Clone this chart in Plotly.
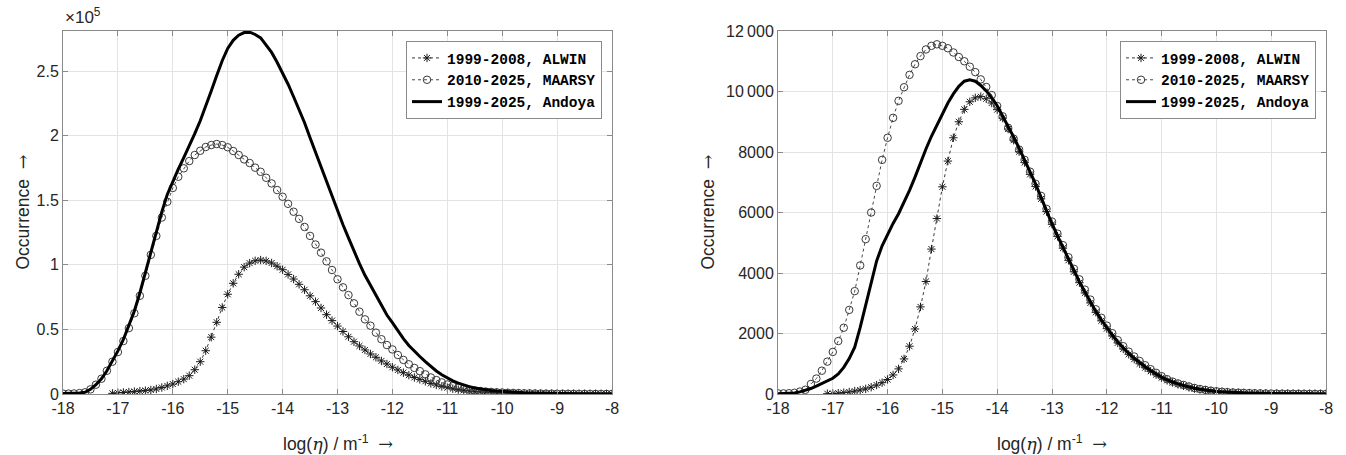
import plotly.graph_objects as go

# ---------------- data ----------------
ETA = [-18.0, -17.9, -17.8, -17.7, -17.6, -17.5, -17.4, -17.3, -17.2, -17.1,
       -17.0, -16.9, -16.8, -16.7, -16.6, -16.5, -16.4, -16.3, -16.2, -16.1,
       -16.0, -15.9, -15.8, -15.7, -15.6, -15.5, -15.4, -15.3, -15.2, -15.1,
       -15.0, -14.9, -14.8, -14.7, -14.6, -14.5, -14.4, -14.3, -14.2, -14.1,
       -14.0, -13.9, -13.8, -13.7, -13.6, -13.5, -13.4, -13.3, -13.2, -13.1,
       -13.0, -12.9, -12.8, -12.7, -12.6, -12.5, -12.4, -12.3, -12.2, -12.1,
       -12.0, -11.9, -11.8, -11.7, -11.6, -11.5, -11.4, -11.3, -11.2, -11.1,
       -11.0, -10.9, -10.8, -10.7, -10.6, -10.5, -10.4, -10.3, -10.2, -10.1,
       -10.0, -9.9, -9.8, -9.7, -9.6, -9.5, -9.4, -9.3, -9.2, -9.1,
       -9.0, -8.9, -8.8, -8.7, -8.6, -8.5, -8.4, -8.3, -8.2, -8.1,
       -8.0]
ETA_ALWIN = ETA[9:]   # ALWIN bins start at -17.1

# left panel: absolute occurrence
L_MAARSY = [300, 300, 400, 700, 1300, 3600, 7200, 11800, 18000, 25000,
            32500, 41000, 51000, 62500, 76000, 91500, 107700, 122400, 136600, 148800,
            159500, 168200, 174700, 180300, 185000, 188300, 191200, 192700, 193500, 192700,
            191000, 188100, 185000, 181600, 178800, 175200, 172000, 167400, 163000, 157900,
            152700, 147200, 141100, 135600, 129300, 122400, 115700, 109400, 102700, 96000,
            88800, 82600, 76600, 70200, 63700, 57800, 52900, 47500, 42400, 37900,
            34500, 30200, 26400, 23000, 20200, 17700, 15200, 12800, 10800, 9000,
            7400, 6100, 5000, 4100, 3400, 2800, 2300, 1900, 1600, 1350,
            1150, 980, 830, 700, 590, 500, 420, 360, 300, 250,
            210, 180, 150, 130, 110, 90, 80, 70, 60, 50,
            40]
L_ALWIN = [500,
           900, 1200, 1500, 1800, 2200, 2600, 3100, 3900, 5000, 6300,
           7700, 9500, 11500, 14200, 18800, 25000, 33500, 44000, 55500, 67000,
           77200, 85700, 92700, 98200, 101300, 103100, 103700, 103000, 101400, 98900,
           96200, 92600, 89000, 84900, 80700, 76000, 71500, 66600, 61400, 56800,
           52600, 48400, 44300, 40500, 37200, 34100, 31000, 28400, 25600, 23200,
           20700, 18600, 16500, 14600, 12800, 11300, 9800, 8200, 7000, 5900,
           4900, 4100, 3400, 2800, 2300, 1900, 1600, 1350, 1150, 950,
           800, 660, 550, 460, 380, 320, 270, 220, 180, 150,
           130, 110, 90, 75, 60, 50, 40, 35, 30, 25,
           20]
L_ANDOYA = [300, 300, 400, 700, 1300, 3600, 7200, 11800, 18000, 25500,
            33400, 42200, 52500, 64300, 78200, 94100, 110800, 126300, 141000, 154500,
            165000, 174000, 183000, 192000, 201500, 211500, 222500, 234500, 246500, 258000,
            267500, 273800, 277700, 279800, 280100, 278300, 275700, 270400, 264400, 256800,
            248900, 239800, 230100, 220500, 210000, 198400, 187200, 176000, 164100, 152800,
            141400, 131000, 120900, 110700, 100900, 91900, 83900, 75900, 68000, 61100,
            55200, 48800, 42900, 37600, 33000, 29000, 25000, 21000, 17800, 14900,
            12300, 10200, 8400, 6900, 5700, 4700, 3900, 3250, 2750, 2300,
            1950, 1640, 1380, 1160, 970, 820, 690, 580, 480, 400,
            340, 290, 240, 205, 170, 140, 120, 105, 90, 75,
            60]

# right panel: normalised occurrence
R_MAARSY = [20, 20, 25, 40, 80, 140, 330, 510, 770, 1070,
            1390, 1750, 2190, 2780, 3400, 4250, 5120, 6000, 6880, 7740,
            8470, 9130, 9690, 10140, 10550, 10900, 11170, 11390, 11510, 11560,
            11510, 11430, 11290, 11140, 11000, 10820, 10640, 10400, 10150, 9880,
            9520, 9180, 8800, 8440, 8080, 7740, 7350, 6950, 6550, 6120,
            5700, 5300, 4920, 4520, 4140, 3790, 3450, 3120, 2800, 2520,
            2260, 2010, 1780, 1580, 1400, 1240, 1090, 950, 820, 700,
            590, 490, 410, 350, 300, 250, 200, 165, 135, 110,
            90, 75, 62, 52, 44, 37, 31, 26, 22, 18,
            15, 13, 11, 9, 8, 7, 6, 5, 4, 4,
            3]
R_ALWIN = [10,
           15, 25, 45, 65, 95, 130, 170, 225, 295, 375,
           480, 630, 830, 1160, 1580, 2150, 2880, 3720, 4790, 5800,
           6850, 7700, 8470, 9000, 9410, 9660, 9790, 9830, 9760, 9620,
           9400, 9120, 8760, 8390, 8010, 7650, 7260, 6860, 6450, 6030,
           5610, 5210, 4820, 4420, 4040, 3680, 3340, 3010, 2700, 2420,
           2160, 1920, 1690, 1490, 1310, 1150, 1000, 870, 750, 640,
           540, 450, 380, 320, 270, 220, 180, 150, 125, 100,
           82, 68, 56, 46, 38, 32, 26, 22, 18, 15,
           12, 10, 9, 8, 7, 6, 5, 4, 4, 3,
           3]
R_ANDOYA = [10, 15, 20, 35, 70, 120, 180, 260, 350, 430,
            520, 660, 880, 1170, 1550, 2200, 2950, 3750, 4400, 4900,
            5300, 5640, 5960, 6340, 6730, 7170, 7650, 8100, 8520, 8900,
            9290, 9620, 9920, 10170, 10340, 10390, 10340, 10200, 10020, 9800,
            9530, 9200, 8860, 8500, 8130, 7750, 7350, 6950, 6500, 6050,
            5620, 5230, 4840, 4450, 4070, 3710, 3370, 3040, 2730, 2450,
            2190, 1950, 1720, 1520, 1340, 1180, 1030, 900, 775, 660,
            560, 470, 395, 335, 280, 230, 190, 158, 130, 105,
            86, 71, 58, 48, 40, 33, 27, 23, 19, 16,
            13, 11, 10, 9, 8, 7, 6, 5, 4, 4,
            3]

SERIES_NAMES = ["1999-2008, ALWIN", "2010-2025, MAARSY", "1999-2025, Andoya"]

X_TICKS = [-18, -17, -16, -15, -14, -13, -12, -11, -10, -9, -8]
X_TICKTEXT = ["-18", "-17", "-16", "-15", "-14", "-13", "-12", "-11", "-10", "-9", "-8"]
L_YTICKS = [0, 50000, 100000, 150000, 200000, 250000]
L_YTICKTEXT = ["0", "0.5", "1", "1.5", "2", "2.5"]
R_YTICKS = [0, 2000, 4000, 6000, 8000, 10000, 12000]
R_YTICKTEXT = ["0", "2000", "4000", "6000", "8000", "10\u2009000", "12\u2009000"]

# ---------------- styling ----------------
W, H = 1346, 455
FONT = "Liberation Sans, Arial, Helvetica, sans-serif"
MONO = "Liberation Mono, Courier New, monospace"
TXT = "#262626"
AXC = "#8a8a8a"
GRID = "#e3e3e3"

L_X0, L_X1 = 63, 612
R_X0, R_X1 = 778, 1326
Y_TOP, Y_BOT = 31, 394


def px_x(p):
    return p / W


def px_y(p):
    return 1 - p / H


fig = go.Figure()


def add_panel(xa, ya, leg, alwin, maarsy, andoya):
    fig.add_trace(go.Scatter(
        x=ETA_ALWIN, y=alwin, name=SERIES_NAMES[0], mode="lines+markers",
        line=dict(color="#222222", width=0.9, dash="dot"),
        marker=dict(symbol="asterisk-open", size=7, color="#1a1a1a",
                    line=dict(color="#1a1a1a", width=1)),
        xaxis=xa, yaxis=ya, legend=leg))
    fig.add_trace(go.Scatter(
        x=ETA, y=maarsy, name=SERIES_NAMES[1], mode="lines+markers",
        line=dict(color="#333333", width=0.9, dash="dot"),
        marker=dict(symbol="circle-open", size=7.5, color="#3a3a3a",
                    line=dict(color="#3a3a3a", width=1)),
        xaxis=xa, yaxis=ya, legend=leg))
    fig.add_trace(go.Scatter(
        x=ETA, y=andoya, name=SERIES_NAMES[2], mode="lines",
        line=dict(color="black", width=3),
        xaxis=xa, yaxis=ya, legend=leg))


add_panel("x", "y", "legend", L_ALWIN, L_MAARSY, L_ANDOYA)
add_panel("x2", "y2", "legend2", R_ALWIN, R_MAARSY, R_ANDOYA)

xcommon = dict(range=[-18, -8], tickvals=X_TICKS, ticktext=X_TICKTEXT,
               ticks="inside", ticklen=5, tickcolor=AXC, showline=True,
               linecolor=AXC, linewidth=1, mirror="allticks", showgrid=True,
               gridcolor=GRID, gridwidth=1, zeroline=False, automargin=False,
               tickfont=dict(family=FONT, size=16, color=TXT))
ycommon = dict(ticks="inside", ticklen=5, tickcolor=AXC, showline=True,
               linecolor=AXC, linewidth=1, mirror="allticks", showgrid=True,
               gridcolor=GRID, gridwidth=1, zeroline=False, automargin=False,
               tickfont=dict(family=FONT, size=16, color=TXT))

dom_y = [px_y(Y_BOT), px_y(Y_TOP)]
legcommon = dict(bgcolor="white", bordercolor="#8a8a8a", borderwidth=1,
                 font=dict(family=MONO, size=14.5, color="black", weight="bold"),
                 xanchor="right", yanchor="top", y=px_y(41),
                 tracegroupgap=0, itemwidth=30)

fig.update_layout(
    template="none",
    width=W, height=H,
    margin=dict(l=0, r=0, t=0, b=0, autoexpand=False),
    paper_bgcolor="white", plot_bgcolor="white",
    font=dict(family=FONT, color=TXT),
    xaxis=dict(domain=[px_x(L_X0), px_x(L_X1)], anchor="y", **xcommon),
    yaxis=dict(domain=dom_y, anchor="x", range=[0, 281000],
               tickvals=L_YTICKS, ticktext=L_YTICKTEXT, **ycommon),
    xaxis2=dict(domain=[px_x(R_X0), px_x(R_X1)], anchor="y2", **xcommon),
    yaxis2=dict(domain=dom_y, anchor="x2", range=[0, 12000],
                tickvals=R_YTICKS, ticktext=R_YTICKTEXT, **ycommon),
    legend=dict(x=px_x(602), **legcommon),
    legend2=dict(x=px_x(1316), **legcommon),
    showlegend=True,
)

ARROW = '<span style="font-family:DejaVu Serif">\u2192</span>'
XTITLE = ('log(<span style="font-family:DejaVu Serif"><i>η</i></span>) / m<sup>-1</sup>  '
          + ARROW)
YTITLE = "Occurrence  " + ARROW
ann = []
for cx in [(L_X0 + L_X1) / 2, (R_X0 + R_X1) / 2]:
    ann.append(dict(text=XTITLE, x=px_x(cx), y=px_y(443), xref="paper", yref="paper",
                    xanchor="center", yanchor="middle", showarrow=False,
                    font=dict(family=FONT, size=17.5, color=TXT)))
for cx in [22, 707]:
    ann.append(dict(text=YTITLE, x=px_x(cx), y=px_y((Y_TOP + Y_BOT) / 2),
                    xref="paper", yref="paper", textangle=-90,
                    xanchor="center", yanchor="middle", showarrow=False,
                    font=dict(family=FONT, size=17.5, color=TXT)))
ann.append(dict(text="×10<sup>5</sup>", x=px_x(63), y=px_y(29), xref="paper", yref="paper",
                xanchor="left", yanchor="bottom", showarrow=False,
                font=dict(family=FONT, size=17, color=TXT)))
fig.update_layout(annotations=ann)

fig.write_html("out.html")
